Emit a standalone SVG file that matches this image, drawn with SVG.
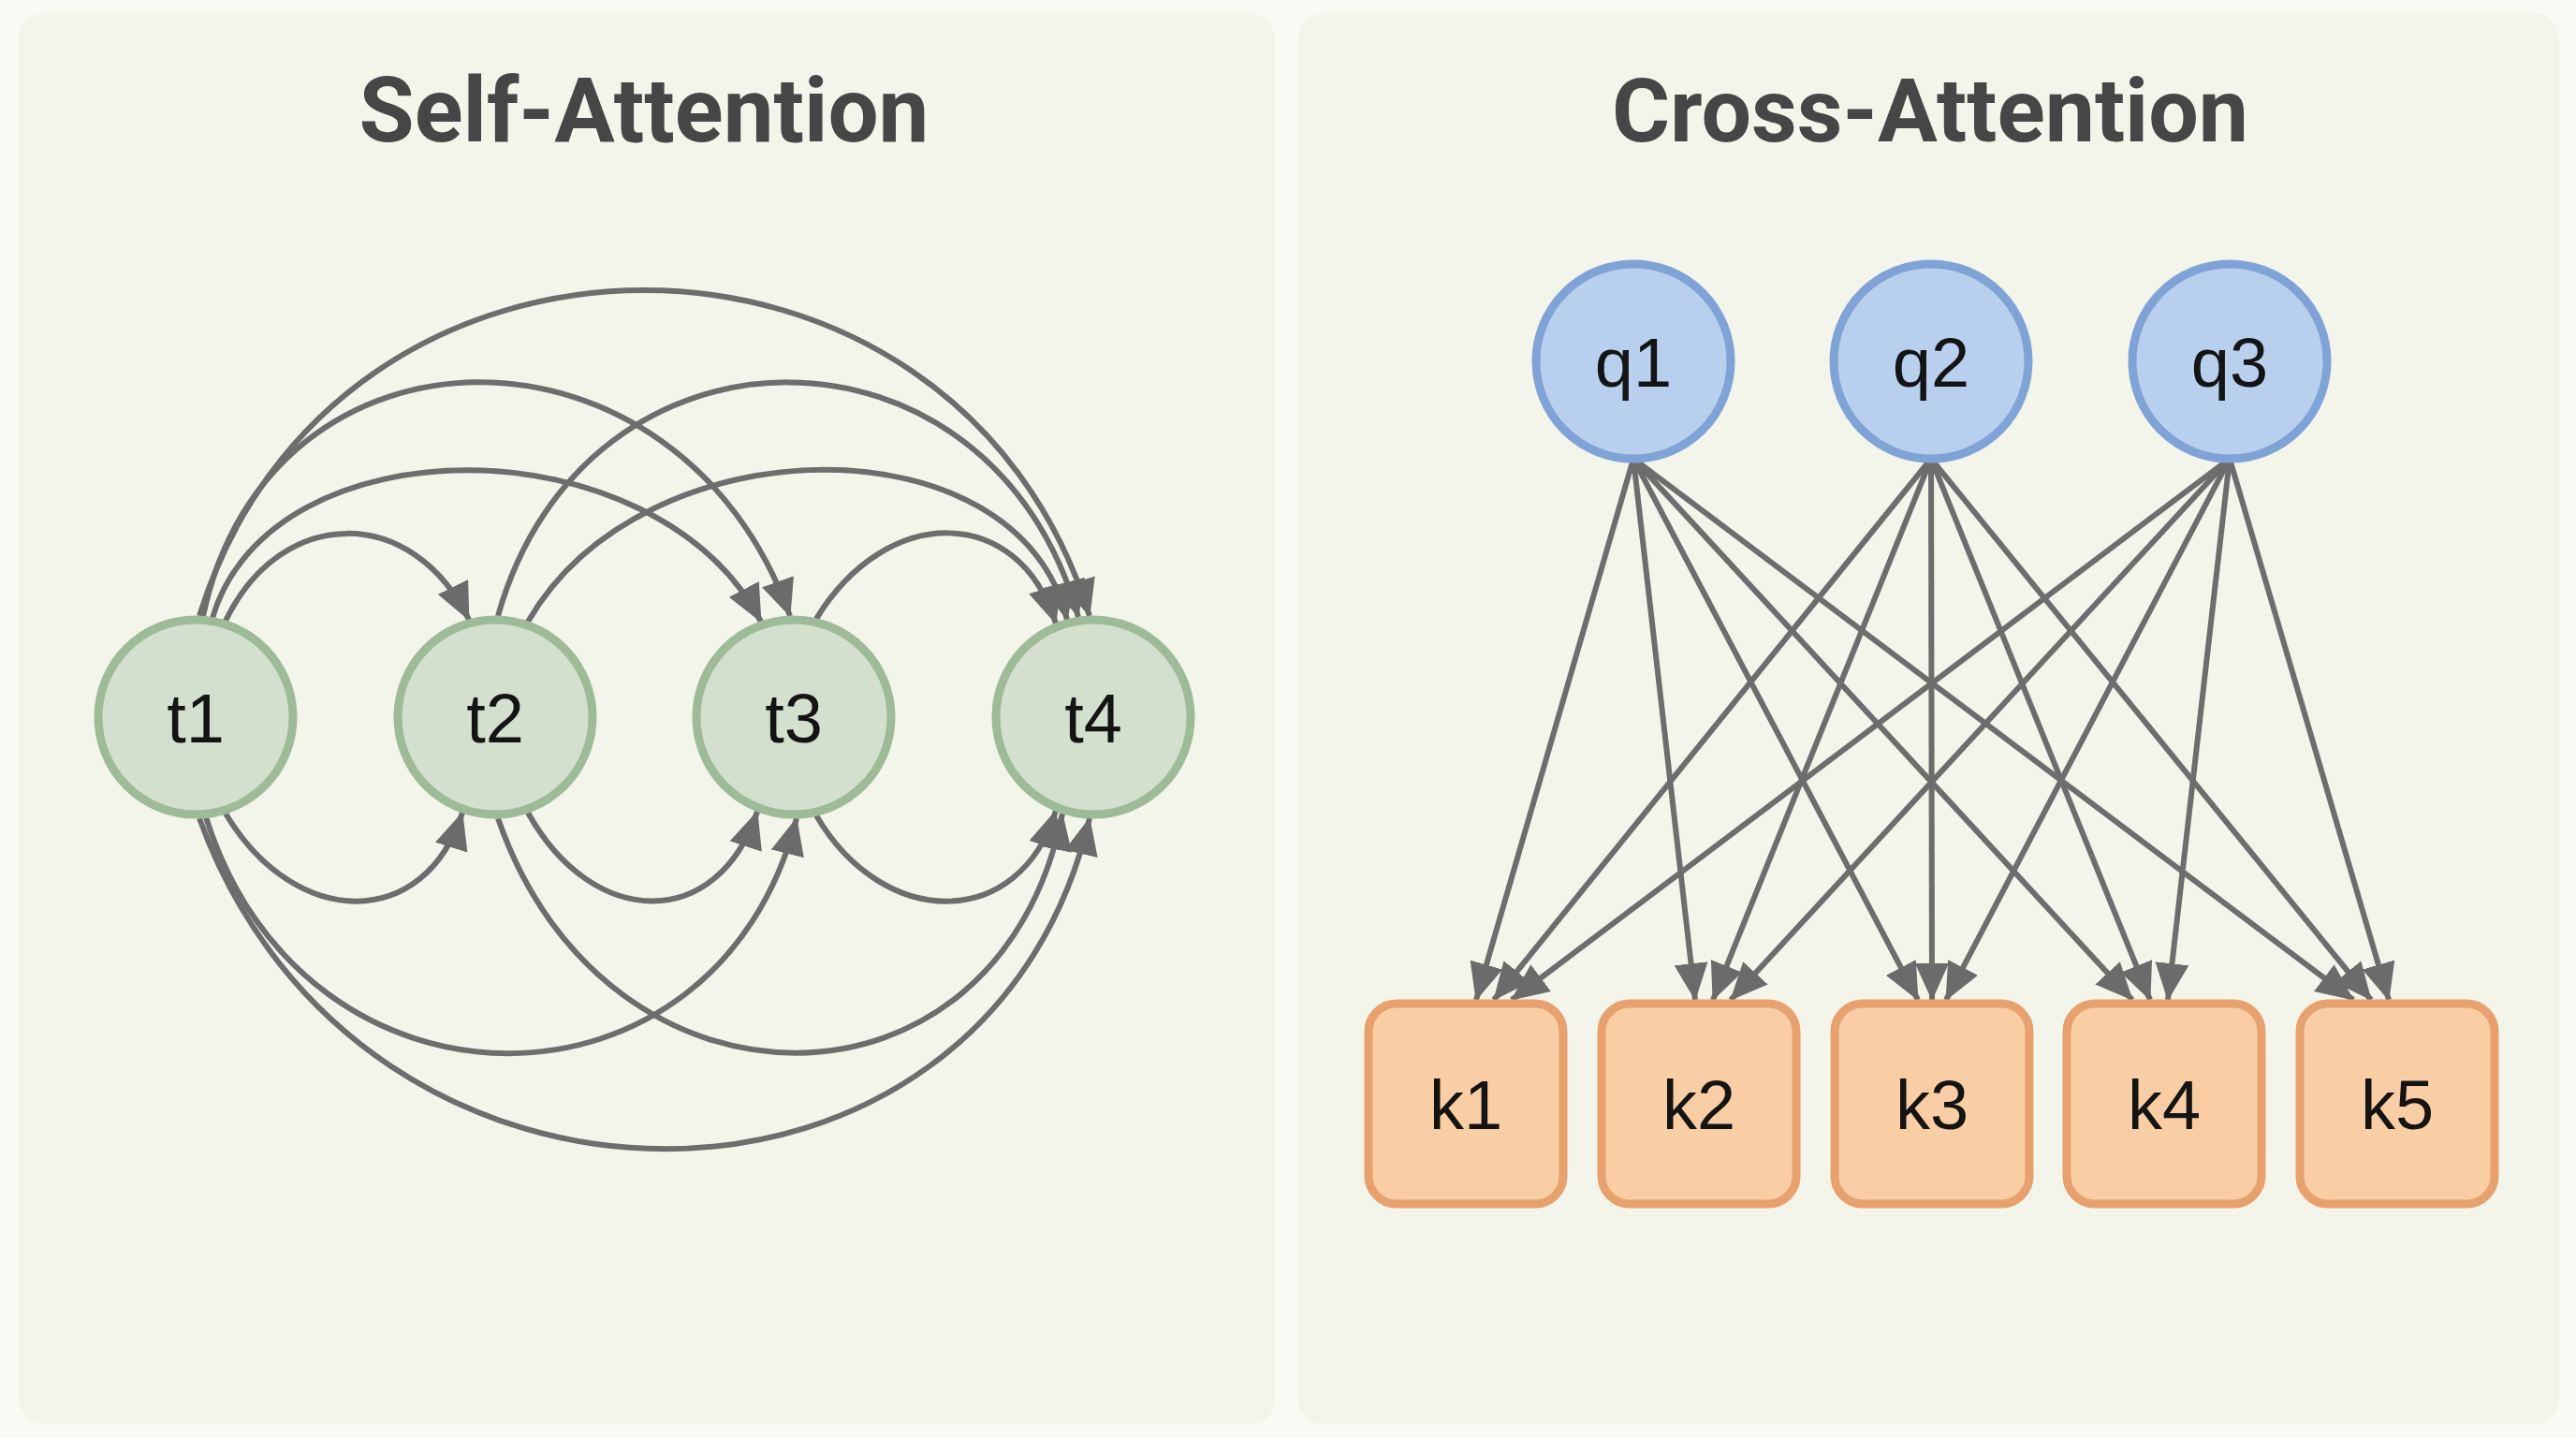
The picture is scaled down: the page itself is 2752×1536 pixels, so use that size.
<svg xmlns="http://www.w3.org/2000/svg" width="2752" height="1536" viewBox="0 0 2752 1536">
  <defs>
    <marker id="arrow" viewBox="0 0 40 36" markerUnits="userSpaceOnUse" markerWidth="40" markerHeight="36" refX="39" refY="18" orient="auto">
      <path d="M0,0 L40,18 L0,36 Z" fill="#6b6b6b"/>
    </marker>
  </defs>
  <style>
    .panel { fill: #f3f4ea; }
    .title { font-family: Roboto, "Liberation Sans", Arial, sans-serif; font-weight: 700; font-size: 96px; fill: #464646; text-anchor: middle; }
    .lbl { font-family: "Liberation Sans", Arial, sans-serif; font-size: 74px; fill: #141414; text-anchor: middle; }
    .tnode { fill: #d3e0cd; stroke: #9dbb97; stroke-width: 9; }
    .qnode { fill: #b8d0ed; stroke: #7fa3d6; stroke-width: 9; }
    .knode { fill: #f9cea4; stroke: #e8a06d; stroke-width: 9; }
    .edge { fill: none; stroke: #6d6d6d; stroke-width: 6; marker-end: url(#arrow); }
  </style>

  <rect x="0" y="0" width="2752" height="1536" fill="#fafaf5"/>

  <g id="panel-self">
    <rect class="panel" x="20" y="14" width="1342" height="1507" rx="26"/>
    <text class="title" x="688" y="151">Self-Attention</text>
  </g>
  <g id="panel-cross">
    <rect class="panel" x="1387" y="14" width="1347" height="1507" rx="26"/>
    <text class="title" x="2062" y="151" style="font-size:95px">Cross-Attention</text>
  </g>

  <g id="connectors">
    <!-- self-attention arcs above -->
    <path class="edge" d="M213,658 C356,194 1021,194 1164,658"/>
    <path class="edge" d="M217,658 C287,325 726,325 844,658"/>
    <path class="edge" d="M532,658 C625,325 1059,325 1152,659"/>
    <path class="edge" d="M227,660 C289,449 700,449 813,664"/>
    <path class="edge" d="M564,664 C689,448 1090,448 1140,662"/>
    <path class="edge" d="M241,663 C301,539 441,539 501,662"/>
    <path class="edge" d="M872,661 C947,538 1088,538 1128,666"/>
    <!-- self-attention arcs below -->
    <path class="edge" d="M241,869 C316,994 454,994 494,868"/>
    <path class="edge" d="M564,868 C634,994 767,994 809,867"/>
    <path class="edge" d="M872,871 C944,994 1089,994 1128,866"/>
    <path class="edge" d="M220,873 C325,1209 766,1209 851,874"/>
    <path class="edge" d="M532,874 C647,1209 1067,1209 1135,869"/>
    <path class="edge" d="M213,874 C383,1345 1054,1345 1164,874"/>
    <!-- cross-attention lines -->
    <path class="edge" d="M1745,490 L1577,1068"/>
    <path class="edge" d="M1745,490 L1811,1068"/>
    <path class="edge" d="M1745,490 L2049,1068"/>
    <path class="edge" d="M1745,490 L2278,1068"/>
    <path class="edge" d="M1745,490 L2514,1068"/>
    <path class="edge" d="M2063,490 L1596,1068"/>
    <path class="edge" d="M2063,490 L1830,1068"/>
    <path class="edge" d="M2063,490 L2064,1068"/>
    <path class="edge" d="M2063,490 L2297,1068"/>
    <path class="edge" d="M2063,490 L2533,1068"/>
    <path class="edge" d="M2382,490 L1615,1068"/>
    <path class="edge" d="M2382,490 L1849,1068"/>
    <path class="edge" d="M2382,490 L2079,1068"/>
    <path class="edge" d="M2382,490 L2316,1068"/>
    <path class="edge" d="M2382,490 L2552,1068"/>
  </g>

  <g id="t1"><circle class="tnode" cx="209" cy="766" r="104"/><text class="lbl" x="209" y="793">t1</text></g>
  <g id="t2"><circle class="tnode" cx="529" cy="766" r="104"/><text class="lbl" x="529" y="793">t2</text></g>
  <g id="t3"><circle class="tnode" cx="848" cy="766" r="104"/><text class="lbl" x="848" y="793">t3</text></g>
  <g id="t4"><circle class="tnode" cx="1168" cy="766" r="104"/><text class="lbl" x="1168" y="793">t4</text></g>

  <g id="q1"><circle class="qnode" cx="1745" cy="386" r="104"/><text class="lbl" x="1745" y="413">q1</text></g>
  <g id="q2"><circle class="qnode" cx="2063" cy="386" r="104"/><text class="lbl" x="2063" y="413">q2</text></g>
  <g id="q3"><circle class="qnode" cx="2382" cy="386" r="104"/><text class="lbl" x="2382" y="413">q3</text></g>

  <g id="k1"><rect class="knode" x="1462" y="1072" width="208" height="214" rx="30"/><text class="lbl" x="1566" y="1206">k1</text></g>
  <g id="k2"><rect class="knode" x="1711" y="1072" width="208" height="214" rx="30"/><text class="lbl" x="1815" y="1206">k2</text></g>
  <g id="k3"><rect class="knode" x="1960" y="1072" width="208" height="214" rx="30"/><text class="lbl" x="2064" y="1206">k3</text></g>
  <g id="k4"><rect class="knode" x="2208" y="1072" width="208" height="214" rx="30"/><text class="lbl" x="2312" y="1206">k4</text></g>
  <g id="k5"><rect class="knode" x="2457" y="1072" width="208" height="214" rx="30"/><text class="lbl" x="2561" y="1206">k5</text></g>
</svg>
